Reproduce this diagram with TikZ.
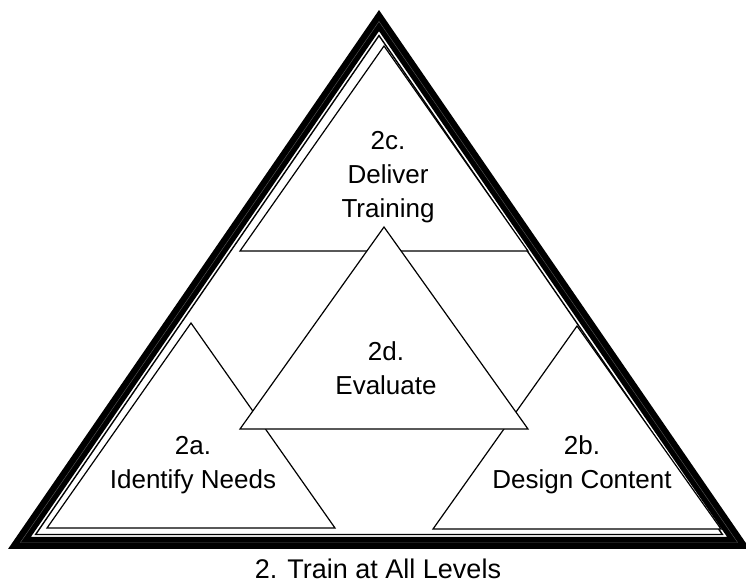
\documentclass[tikz,border=0pt]{standalone}
\usepackage{fontspec}
\setmainfont{Liberation Sans}
\usetikzlibrary{calc}

\begin{document}
\begin{tikzpicture}[x=1pt, y=-1pt, % one unit is one pixel, y runs down
		frame/.style={draw=black, line width=12pt, line join=miter},
		hair/.style={draw=black!65, line width=0.4pt, line join=miter},
		rim/.style={draw=black, line width=1.4pt, line join=miter},
		tri/.style={draw=black, fill=white, line width=1.2pt, line join=miter},
		lbl/.style={align=center, font=\fontsize{26}{34}\selectfont, inner sep=0pt}
		]
		\useasboundingbox (0,0) rectangle (746,583);
		
		% outer triangle and its centre
		\coordinate (top) at (379,10);
		\coordinate (bl) at (8,549);
		\coordinate (br) at (750,549);
		\coordinate (mid) at (379,354);
		
		% thick band, hairline inside it, thin rim
		\draw[frame] ($(mid)!0.9692!(top)$) -- ($(mid)!0.9692!(bl)$) -- ($(mid)!0.9692!(br)$) -- cycle;
		\draw[hair] ($(mid)!0.9667!(top)$) -- ($(mid)!0.9667!(bl)$) -- ($(mid)!0.9667!(br)$) -- cycle;
		\draw[rim] ($(mid)!0.9256!(top)$) -- ($(mid)!0.9256!(bl)$) -- ($(mid)!0.9256!(br)$) -- cycle;
		
		% the four inner triangles
		\draw[tri] (384,46) -- (528,251) -- (240,251) -- cycle; % 2c
		\draw[tri] (191,323) -- (335,528) -- (47,528) -- cycle; % 2a
		\draw[tri] (577,326) -- (721,529) -- (433,529) -- cycle; % 2b
		\draw[tri] (384,227) -- (528,429) -- (240,429) -- cycle; % 2d on top
		
		% labels
		\node[lbl] (deliver) at (388,177) {2c.\\Deliver\\Training};
		\node[lbl] (evaluate) at (386,368) {2d.\\Evaluate};
		\node[lbl] (needs) at (193,465) {2a.\\Identify Needs};
		\node[lbl] (design) at (582,465) {2b.\\Design Content};
		\node[lbl, anchor=base, font=\fontsize{27}{32}\selectfont] (title) at (378,578) {2. Train at All Levels};
		
	\end{tikzpicture}
\end{document}
